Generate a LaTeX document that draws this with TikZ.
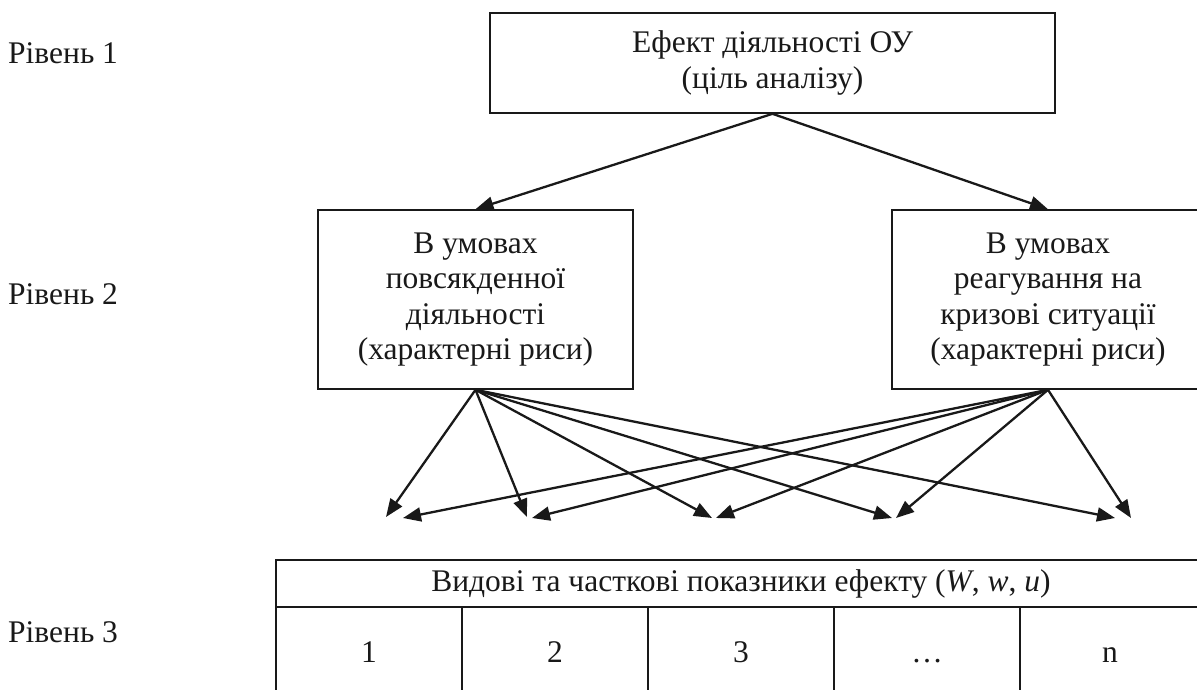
\documentclass[tikz,border=0pt]{standalone}
\usepackage{fontspec}
\setmainfont{Liberation Serif}
\usetikzlibrary{arrows.meta}
\begin{document}
\begin{tikzpicture}[x=1pt,y=-1pt,
  every node/.style={font=\fontsize{31.5}{35.5}\selectfont, text=black!90},
  box/.style={draw=black!90, line width=1.6pt, inner sep=0pt, align=center},
  arr/.style={draw=black!90, line width=2.3pt, -{Triangle[length=18pt,width=14pt]}},
  lvl/.style={anchor=base west, inner sep=0pt},
  cell/.style={anchor=base, inner sep=0pt},
  tline/.style={draw=black!90, line width=2.3pt}]
\useasboundingbox (0,0) rectangle (1197,689);
\clip (0,0) rectangle (1197,689);
% level labels
\node[lvl] (l1) at (8,63) {Рівень 1};
\node[lvl] (l2) at (8,304) {Рівень 2};
\node[lvl] (l3) at (8,642) {Рівень 3};
% boxes
\node[box, minimum width=565pt, minimum height=100pt] (top) at (772.5,63)
  {Ефект діяльності ОУ\\(ціль аналізу)};
\node[box, minimum width=315pt, minimum height=179pt] (left) at (475.5,299.5)
  {В умовах\\повсякденної\\діяльності\\(характерні риси)};
\node[box, minimum width=312pt, minimum height=179pt] (right) at (1048,299.5)
  {В умовах\\реагування на\\кризові ситуації\\(характерні риси)};
\draw[arr] (top.south) -- (left.north);
\draw[arr] (top.south) -- (right.north);
% tips of the fans
\coordinate (p1) at (386,517);
\coordinate (p2) at (527,517);
\coordinate (p3) at (712,518);
\coordinate (p4) at (892,518);
\coordinate (p5) at (1115,518);
\coordinate (q1) at (403,518);
\coordinate (q2) at (532,518);
\coordinate (q3) at (716,518);
\coordinate (q4) at (896,518);
\coordinate (q5) at (1131,518);
\foreach \t in {p1,p2,p3,p4,p5} \draw[arr] (left.south) -- (\t);
\foreach \t in {q1,q2,q3,q4,q5} \draw[arr] (right.south) -- (\t);
% table
\draw[tline] (1200,560) -- (276,560) -- (276,700);
\draw[tline] (276,607) -- (1200,607);
\foreach \x in {462,648,834,1020} \draw[tline] (\x,607) -- (\x,700);
\node[cell] (h) at (741,591) {Видові та часткові показники ефекту (\textit{W}, \textit{w}, \textit{u})};
\node[cell] (c1) at (369,662) {1};
\node[cell] (c2) at (555,662) {2};
\node[cell] (c3) at (741,662) {3};
\node[cell] (c4) at (927,662) {\dots};
\node[cell] (c5) at (1110,662) {n};
\end{tikzpicture}
\end{document}
